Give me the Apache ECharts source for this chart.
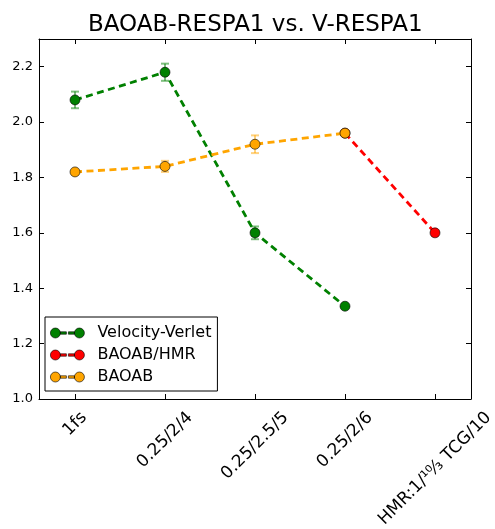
<!DOCTYPE html>
<html>
<head>
<meta charset="utf-8">
<script src="https://cdn.jsdelivr.net/npm/echarts@6/dist/echarts.min.js"></script>
<style>html,body{margin:0;padding:0;background:#fff}#c{width:495px;height:529px}</style>
</head>
<body>
<div id="c"></div>
<script>
// ---- data ----
const categories = ['1fs', '0.25/2/4', '0.25/2.5/5', '0.25/2/6', 'HMR:1/¹⁰⁄₃ TCG/10'];
const yTicks = [1.0, 1.2, 1.4, 1.6, 1.8, 2.0, 2.2];
const vvIdx = [0, 1, 2, 3];
const vvVal = [2.08, 2.18, 1.60, 1.335];
const vvErr = [0.03, 0.031, 0.023, 0.005];
const hmrIdx = [3, 4];
const hmrVal = [1.96, 1.60];
const hmrErr = [0, 0.004];
const baoabIdx = [0, 1, 2, 3];
const baoabVal = [1.82, 1.84, 1.92, 1.96];
const baoabErr = [0.004, 0.02, 0.032, 0.006];

// ---- style ----
const FONT = 'DejaVu Sans';
const XFS = 17;
const C_GREEN = '#008000', C_RED = '#ff0000', C_ORANGE = '#ffa500';

const chart = echarts.init(document.getElementById('c'), null, {renderer: 'canvas'});

function pts(idx, val) { return idx.map((x, i) => [x, val[i]]); }
function errPts(idx, val, err) { return idx.map((x, i) => [x, val[i] - err[i], val[i] + err[i]]); }

// label margin so rotated (45deg) centered labels hang below the axis like matplotlib
const mctx = document.createElement('canvas').getContext('2d');
mctx.font = XFS + 'px "' + FONT + '"';
function labelMargin(t) { const w = mctx.measureText(t).width; return 11 + (w + 14) * 0.7071 / 2; }

const xBase = {type: 'value', min: -0.4, max: 4.4, gridIndex: 0, position: 'bottom',
  splitLine: {show: false}};
const xAxes = [
  Object.assign({}, xBase, {
    axisLine: {show: true, onZero: false, lineStyle: {color: '#000', width: 1}},
    axisTick: {show: true, inside: true, length: 5, customValues: [0,1,2,3,4], lineStyle: {color: '#000'}},
    axisLabel: {show: false}
  }),
  Object.assign({}, xBase, {position: 'top',
    axisLine: {show: true, onZero: false, lineStyle: {color: '#000', width: 1}},
    axisTick: {show: true, inside: true, length: 5, customValues: [0,1,2,3,4], lineStyle: {color: '#000'}},
    axisLabel: {show: false}
  })
];
categories.forEach((c, i) => {
  xAxes.push(Object.assign({}, xBase, {
    axisLine: {show: false}, axisTick: {show: false},
    axisLabel: {show: true, customValues: [i], rotate: 45, align: 'center', verticalAlign: 'middle',
      margin: labelMargin(c), fontFamily: FONT, fontSize: XFS, color: '#000',
      formatter: () => categories[i]}
  }));
});

const yBase = {type: 'value', min: 1.0, max: 2.3, splitLine: {show: false}};
const yAxes = [
  Object.assign({}, yBase, {position: 'left',
    axisLine: {show: true, onZero: false, lineStyle: {color: '#000', width: 1}},
    axisTick: {show: true, inside: true, length: 5, customValues: yTicks, lineStyle: {color: '#000'}},
    axisLabel: {show: true, customValues: yTicks, formatter: v => v.toFixed(1), fontFamily: FONT, fontSize: 13, color: '#000', margin: 6}
  }),
  Object.assign({}, yBase, {position: 'right',
    axisLine: {show: true, onZero: false, lineStyle: {color: '#000', width: 1}},
    axisTick: {show: true, inside: true, length: 5, customValues: yTicks, lineStyle: {color: '#000'}},
    axisLabel: {show: false}
  })
];

function errSeries(name, data, color) {
  return {
    type: 'custom', name: name + '_err', xAxisIndex: 0, yAxisIndex: 0, z: 1, silent: true,
    data: data,
    renderItem: function (params, api) {
      const x = api.value(0), lo = api.value(1), hi = api.value(2);
      const p0 = api.coord([x, lo]), p1 = api.coord([x, hi]);
      const cap = 4;
      const st = {stroke: color, lineWidth: 2, opacity: 0.5};
      return {type: 'group', children: [
        {type: 'line', shape: {x1: p0[0], y1: p0[1], x2: p1[0], y2: p1[1]}, style: st},
        {type: 'line', shape: {x1: p0[0]-cap, y1: p0[1], x2: p0[0]+cap, y2: p0[1]}, style: st},
        {type: 'line', shape: {x1: p1[0]-cap, y1: p1[1], x2: p1[0]+cap, y2: p1[1]}, style: st}
      ]};
    }
  };
}
function lineSeries(name, data, color, z) {
  return {
    type: 'line', name: name, data: data, xAxisIndex: 0, yAxisIndex: 0, z: z,
    symbol: 'circle', symbolSize: 10, showSymbol: true, animation: false,
    lineStyle: {color: color, width: 2.8, type: [7, 4.5]},
    itemStyle: {color: color, borderColor: 'rgba(0,0,0,0.75)', borderWidth: 0.8},
    emphasis: {disabled: true}
  };
}

const legendIcon = 'path://M0,5a5,5 0 1,0 10,0a5,5 0 1,0 -10,0ZM24,5a5,5 0 1,0 10,0a5,5 0 1,0 -10,0ZM10,3.8h6v2.4h-6ZM18,3.8h6v2.4h-6Z';

chart.setOption({
  animation: false,
  backgroundColor: '#fff',
  title: {text: 'BAOAB-RESPA1 vs. V-RESPA1', left: 83, top: 9,
    textStyle: {fontFamily: FONT, fontSize: 23, fontWeight: 'normal', color: '#000'}},
  grid: {left: 39, right: 24, top: 39, bottom: 130, containLabel: false, outerBoundsMode: 'none', show: false},
  xAxis: xAxes,
  yAxis: yAxes,
  legend: {
    orient: 'vertical', left: 45, top: 317,
    data: [
      {name: 'Velocity-Verlet', icon: legendIcon},
      {name: 'BAOAB/HMR', icon: legendIcon},
      {name: 'BAOAB', icon: legendIcon}
    ],
    itemWidth: 34, itemHeight: 10, itemGap: 6,
    padding: [8, 6, 6, 5],
    borderColor: '#000', borderWidth: 1, backgroundColor: '#fff',
    textStyle: {fontFamily: FONT, fontSize: 16, color: '#000', padding: [0, 0, 0, 8]},
    itemStyle: {borderColor: 'rgba(0,0,0,0.75)', borderWidth: 0.8},
    selectedMode: false
  },
  series: [
    errSeries('Velocity-Verlet', errPts(vvIdx, vvVal, vvErr), C_GREEN),
    errSeries('BAOAB/HMR', errPts(hmrIdx, hmrVal, hmrErr), C_RED),
    errSeries('BAOAB', errPts(baoabIdx, baoabVal, baoabErr), C_ORANGE),
    lineSeries('Velocity-Verlet', pts(vvIdx, vvVal), C_GREEN, 3),
    lineSeries('BAOAB/HMR', pts(hmrIdx, hmrVal), C_RED, 4),
    lineSeries('BAOAB', pts(baoabIdx, baoabVal), C_ORANGE, 5)
  ]
});
</script>
</body>
</html>
